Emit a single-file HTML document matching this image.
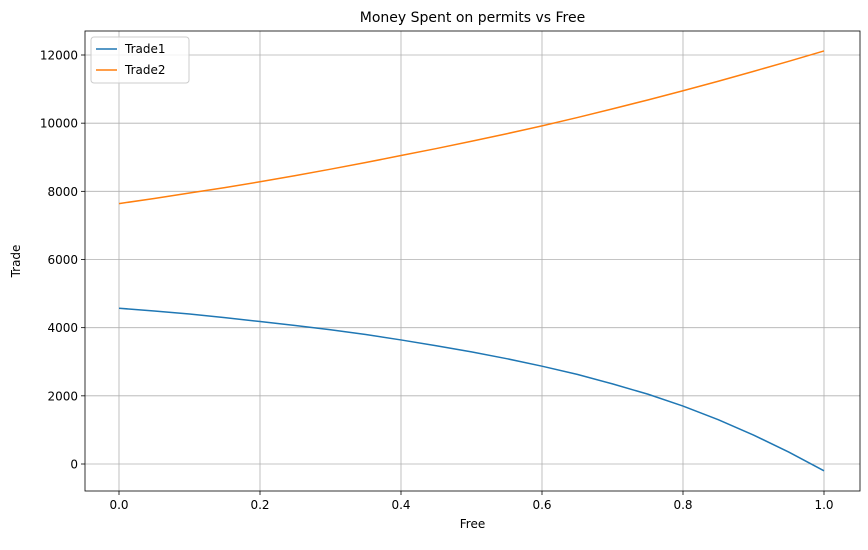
<!DOCTYPE html>
<html><head><meta charset="utf-8">
<style>
body{margin:0;background:#fff;font-family:"Liberation Sans","DejaVu Sans",sans-serif;}
svg text{font-family:"DejaVu Sans","Liberation Sans",sans-serif;}
</style></head>
<body>
<svg id="chart" width="868" height="545" xmlns="http://www.w3.org/2000/svg"></svg>
<script>
const xs = [0,0.05,0.1,0.15,0.2,0.25,0.3,0.35,0.4,0.45,0.5,0.55,0.6,0.65,0.7,0.75,0.8,0.85,0.9,0.95,1.0];
const trade1 = [4570,4490,4400,4295,4180,4065,3940,3800,3640,3470,3290,3090,2870,2630,2350,2050,1700,1300,850,350,-200];
const trade2 = [7640,7790,7950,8110,8280,8460,8650,8845,9050,9255,9470,9690,9920,10165,10420,10680,10950,11230,11520,11815,12120];
const xTicks = [0,0.2,0.4,0.6,0.8,1.0];
const xTickLabels = ["0.0","0.2","0.4","0.6","0.8","1.0"];
const yTicks = [0,2000,4000,6000,8000,10000,12000];
const yTickLabels = ["0","2000","4000","6000","8000","10000","12000"];

const NS="http://www.w3.org/2000/svg";
const svg=document.getElementById('chart');
const L=85,R=860,T=31,B=491;
const X=v=>119+(824-119)*v;
const Y=v=>464-(464-55)*v/12000;
function mk(tag,attrs,parent){const e=document.createElementNS(NS,tag);for(const k in attrs)e.setAttribute(k,attrs[k]);(parent||svg).appendChild(e);return e;}

const grid=mk('g',{});


xTicks.forEach((t,i)=>{
  const l=mk('line',{x1:X(t),x2:X(t),y1:T,y2:B,stroke:'#b0b0b0','stroke-width':0.8},grid);
  
  
  mk('line',{x1:X(t),x2:X(t),y1:B,y2:B+4,stroke:'#000','stroke-width':0.8});
  const tx=mk('text',{x:X(t),y:B+18,'text-anchor':'middle','font-size':12});
  tx.textContent=xTickLabels[i];
  
  
});
yTicks.forEach((t,i)=>{
  const l=mk('line',{x1:L,x2:R,y1:Y(t),y2:Y(t),stroke:'#b0b0b0','stroke-width':0.8},grid);
  
  
  mk('line',{x1:L-4,x2:L,y1:Y(t),y2:Y(t),stroke:'#000','stroke-width':0.8});
  const tx=mk('text',{x:L-7,y:Y(t)+4.5,'text-anchor':'end','font-size':12});
  tx.textContent=yTickLabels[i];
  
  
});
function line(vals,color,name){
  const p=mk('polyline',{points:xs.map((x,i)=>X(x)+','+Y(vals[i])).join(' '),fill:'none',stroke:color,'stroke-width':1.5,'stroke-linejoin':'round'});
  
  
}
line(trade1,'#1f77b4','trade1-line');
line(trade2,'#ff7f0e','trade2-line');
const frame=mk('rect',{x:L,y:T,width:R-L,height:B-T,fill:'none',stroke:'#000','stroke-width':0.8});


const title=mk('text',{x:(L+R)/2,y:T-9,'text-anchor':'middle','font-size':14});
title.textContent='Money Spent on permits vs Free';


const xl=mk('text',{x:(L+R)/2,y:B+37,'text-anchor':'middle','font-size':12});
xl.textContent='Free';


const yl=mk('text',{x:0,y:0,'text-anchor':'middle','font-size':12,transform:`translate(20,${(T+B)/2}) rotate(-90)`});
yl.textContent='Trade';


const lg=mk('g',{});


mk('rect',{x:91,y:37,width:98,height:46,rx:3,fill:'#fff','fill-opacity':0.8,stroke:'#ccc'},lg);
[['Trade1','#1f77b4',53],['Trade2','#ff7f0e',74]].forEach(([n,c,y])=>{
  const e=mk('g',{},lg);
  
  
  mk('line',{x1:96,x2:117,y1:y-4,y2:y-4,stroke:c,'stroke-width':1.5},e);
  const t=mk('text',{x:125,y:y,'font-size':12},e);t.textContent=n;
});
</script>
</body></html>
